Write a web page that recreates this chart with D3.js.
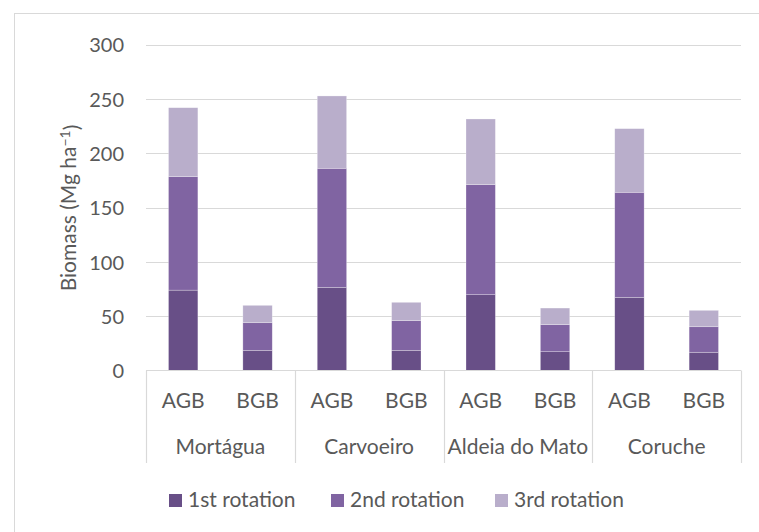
<!DOCTYPE html>
<html>
<head>
<meta charset="utf-8">
<script src="https://cdn.jsdelivr.net/npm/d3@7"></script>
<style>
  html, body { margin: 0; padding: 0; background: #fff; }
  svg { display: block; }
  text { font-family: Lato, "Open Sans", sans-serif; fill: #595959; }
</style>
</head>
<body>
<svg id="chart" width="759" height="532"></svg>
<script>
// ---- data ----
const sites = ["Mortágua", "Carvoeiro", "Aldeia do Mato", "Coruche"];
const parts = ["AGB", "BGB"];
const seriesNames = ["1st rotation", "2nd rotation", "3rd rotation"];
// values in site order, AGB then BGB for each site
const rotation1 = [74, 18.6, 76.6, 18.6, 69.8, 17.3, 67.4, 16.8];
const rotation2 = [104.5, 25.4, 109.6, 27.3, 101.3, 24.9, 96.7, 23.5];
const rotation3 = [63.5, 16, 66.6, 16.9, 60.5, 15.3, 58.6, 15.1];
const yTicks = [0, 50, 100, 150, 200, 250, 300];
const colors = ["#684F87", "#8064A2", "#B9AECB"];

// ---- build table ----
const rows = [];
sites.forEach((s, i) => parts.forEach((p, j) => {
  const k = i * 2 + j;
  rows.push({ key: s + "|" + p, site: s, part: p,
    "1st rotation": rotation1[k], "2nd rotation": rotation2[k], "3rd rotation": rotation3[k] });
}));

const svg = d3.select("#chart");
const left = 146, right = 741, y0 = 370.5, yTop = 44.7;
const fs = "21px";

// outer border
svg.append("rect").attr("x", 14.5).attr("y", 13.5).attr("width", 800).attr("height", 600)
  .attr("fill", "none").attr("stroke", "#D9D9D9").attr("stroke-width", 1);

const x = d3.scaleBand().domain(rows.map(d => d.key)).range([left, right]).padding(0);
const y = d3.scaleLinear().domain([0, 300]).range([y0, yTop]);

// gridlines
svg.append("g").selectAll("line").data(yTicks.filter(t => t > 0)).join("line")
  .attr("x1", left).attr("x2", right)
  .attr("y1", d => Math.round(y(d)) + 0.5).attr("y2", d => Math.round(y(d)) + 0.5)
  .attr("stroke", "#D9D9D9").attr("stroke-width", 1);

// y axis labels via d3 axis
const yAxis = svg.append("g").attr("transform", `translate(${left},0)`)
  .call(d3.axisLeft(y).tickValues(yTicks).tickSize(0).tickPadding(22).tickFormat(d3.format("d")));
yAxis.select(".domain").remove();
yAxis.selectAll("text").style("font-size", "20px").style("font-family", "Lato, sans-serif")
  .attr("fill", "#595959").attr("dy", "0.36em");

// stacked bars
const stack = d3.stack().keys(seriesNames)(rows);
const bw = x.bandwidth() * 0.395;
svg.append("g").selectAll("g").data(stack).join("g")
  .attr("fill", (d, i) => colors[i])
  .selectAll("rect").data(d => d).join("rect")
  .attr("x", d => x(d.data.key) + (x.bandwidth() - bw) / 2)
  .attr("width", bw)
  .attr("y", d => y(d[1]))
  .attr("height", d => y(d[0]) - y(d[1]))
  .attr("stroke", "#ffffff").attr("stroke-width", 0.6).attr("stroke-opacity", 0.45);

// baseline
svg.append("line").attr("x1", left).attr("x2", right).attr("y1", y0).attr("y2", y0)
  .attr("stroke", "#D9D9D9").attr("stroke-width", 1.2);

// group dividers
const groupW = (right - left) / sites.length;
const divs = d3.range(sites.length + 1).map(i => left + i * groupW);
svg.append("g").selectAll("line").data(divs).join("line")
  .attr("x1", d => Math.round(d) + 0.5).attr("x2", d => Math.round(d) + 0.5)
  .attr("y1", y0).attr("y2", 463)
  .attr("stroke", "#D9D9D9").attr("stroke-width", 1.2);

// part labels
svg.append("g").selectAll("text").data(rows).join("text")
  .attr("x", d => x(d.key) + x.bandwidth() / 2).attr("y", 408)
  .attr("text-anchor", "middle").style("font-size", fs).text(d => d.part);

// site labels
svg.append("g").selectAll("text").data(sites).join("text")
  .attr("x", (d, i) => left + (i + 0.5) * groupW).attr("y", 454)
  .attr("text-anchor", "middle").style("font-size", fs).text(d => d);

// y axis title
const yt = svg.append("text").attr("transform", "translate(76,208) rotate(-90)")
  .attr("text-anchor", "middle").style("font-size", fs);
yt.append("tspan").text("Biomass (Mg ha");
yt.append("tspan").attr("dy", "-0.45em").style("font-size", "14px").text("−1");
yt.append("tspan").attr("dy", "0.45em").text(")");

// legend
const legX = [169, 331, 495];
const leg = svg.append("g").selectAll("g").data(seriesNames).join("g")
  .attr("transform", (d, i) => `translate(${legX[i]},494)`);
leg.append("rect").attr("width", 13).attr("height", 13).attr("fill", (d, i) => colors[i]);
leg.append("text").attr("x", 19).attr("y", 13).style("font-size", fs).text(d => d);
</script>
</body>
</html>
